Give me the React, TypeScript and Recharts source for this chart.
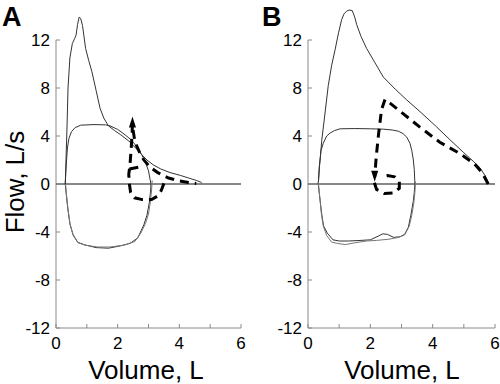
import React from 'react'
import { ComposedChart, Line, XAxis, YAxis, ReferenceLine } from 'recharts'

type Pt = { x: number; y: number }
const pts = (a: number[][]): Pt[] => a.map(([x, y]) => ({ x, y }))

const volumeTicks = [0, 1, 2, 3, 4, 5, 6]
const flowTicks = [-12, -8, -4, 0, 4, 8, 12]

// Panel A
const mefvA = pts([
  [0.3, 0], [0.33, 2.5], [0.36, 5.0], [0.39, 8.0], [0.45, 10.5], [0.53, 11.7], [0.6, 12.1],
  [0.65, 12.4], [0.7, 13.3], [0.75, 13.9], [0.8, 13.8], [0.86, 13.2], [0.96, 11.3], [1.06, 10.3],
  [1.16, 9.4], [1.3, 7.8], [1.43, 6.3], [1.55, 5.5], [1.7, 4.85], [1.9, 4.45], [2.1, 4.1],
  [2.4, 3.5], [2.6, 2.95], [2.78, 2.45], [2.95, 2.0], [3.15, 1.6], [3.4, 1.25], [3.7, 0.95],
  [4.03, 0.72], [4.3, 0.5], [4.55, 0.3], [4.7, 0.15], [4.73, 0.08],
])
const loopA = pts([
  [0.3, 0], [0.33, 1.5], [0.37, 3.0], [0.42, 3.8], [0.5, 4.35], [0.62, 4.7], [0.8, 4.9],
  [1.2, 4.95], [1.6, 4.93], [1.75, 4.85], [2.0, 4.55], [2.24, 4.1], [2.45, 3.65], [2.62, 3.1],
  [2.78, 2.45], [2.9, 1.8], [3.0, 1.1], [3.05, 0.4], [3.08, 0], [3.07, -0.5], [3.03, -1.5],
  [2.95, -2.6], [2.85, -3.4], [2.65, -4.5], [2.4, -4.95], [2.1, -5.15], [1.7, -5.35],
  [1.3, -5.3], [0.9, -5.05], [0.7, -4.85], [0.55, -4.2], [0.45, -3.3], [0.38, -2.0],
  [0.33, -0.8], [0.3, 0],
])
const inspA = pts([
  [3.12, 0.3], [3.1, -0.5], [3.06, -1.5], [3.0, -2.5], [2.9, -3.3], [2.75, -4.1], [2.55, -4.8],
  [2.2, -5.1], [1.75, -5.25], [1.35, -5.25], [0.95, -5.1], [0.72, -4.9], [0.56, -4.3],
  [0.46, -3.4], [0.39, -2.1], [0.34, -0.9], [0.31, 0],
])
const tidalExpA = pts([
  [2.5, 4.5], [2.56, 3.5], [2.7, 2.7], [2.85, 2.0], [3.05, 1.4], [3.3, 0.95], [3.65, 0.5],
  [4.0, 0.25], [4.3, 0.12], [4.55, 0.05],
])
const tidalInspA = pts([
  [3.5, 0.05], [3.42, -0.5], [3.33, -0.95], [3.1, -1.3], [2.8, -1.3], [2.55, -1.15],
  [2.42, -0.7], [2.38, 0], [2.36, 0.8], [2.4, 1.6], [2.44, 3.0], [2.47, 4.3], [2.48, 5.2],
])
const tidalKinkA = pts([[2.38, 1.25], [2.68, 1.4]])

// Panel B
const mefvB = pts([
  [0.33, 0], [0.37, 1.5], [0.44, 3.6], [0.55, 6.0], [0.65, 8.2], [0.76, 9.9], [0.87, 11.2],
  [0.98, 12.6], [1.08, 13.7], [1.16, 14.2], [1.24, 14.4], [1.32, 14.5], [1.42, 14.45],
  [1.5, 13.9], [1.56, 13.3], [1.7, 12.3], [1.88, 11.3], [2.15, 10.1], [2.42, 8.9], [2.8, 7.9],
  [3.17, 7.0], [3.65, 5.9], [4.13, 4.75], [4.55, 3.7], [4.98, 2.65], [5.3, 1.9], [5.52, 1.35],
  [5.68, 0.7], [5.78, 0.13], [5.8, 0],
])
const loopB = pts([
  [0.33, 0], [0.36, 1.4], [0.42, 2.8], [0.49, 3.4], [0.6, 4.0], [0.71, 4.25], [0.85, 4.45],
  [1.03, 4.6], [1.5, 4.62], [2.0, 4.6], [2.42, 4.57], [2.7, 4.5], [2.9, 4.4], [3.05, 4.2],
  [3.17, 3.9], [3.27, 3.4], [3.33, 2.8], [3.38, 2.0], [3.41, 1.2], [3.43, 0], [3.41, -0.7],
  [3.38, -1.4], [3.3, -2.6], [3.22, -3.6], [3.1, -4.2], [2.95, -4.4], [2.75, -4.45],
  [2.55, -4.2], [2.4, -4.15], [2.25, -4.35], [2.0, -4.65], [1.7, -4.7], [1.3, -4.75],
  [1.0, -4.75], [0.8, -4.65], [0.62, -4.1], [0.5, -3.5], [0.44, -2.5], [0.39, -1.4],
  [0.35, -0.5], [0.33, 0],
])
const inspB = pts([
  [3.45, 0.2], [3.43, -0.7], [3.4, -1.5], [3.33, -2.6], [3.25, -3.5], [3.1, -4.25],
  [2.9, -4.45], [2.6, -4.6], [2.2, -4.7], [1.88, -4.75], [1.5, -4.9], [1.19, -5.05],
  [0.95, -4.95], [0.76, -4.85], [0.6, -4.3], [0.49, -3.5], [0.43, -2.5], [0.39, -1.4],
  [0.35, -0.4], [0.33, 0.2],
])
const tidalB = pts([
  [5.78, 0], [5.6, 0.9], [5.35, 1.65], [4.9, 2.5], [4.23, 3.48], [3.59, 4.74], [3.06, 5.85],
  [2.65, 6.7], [2.47, 7.05], [2.36, 6.2], [2.27, 4.3], [2.19, 2.3], [2.14, 0.6],
])
const tidalLoopB = pts([
  [2.13, 0.1], [2.2, -0.45], [2.45, -0.8], [2.75, -0.75], [2.93, -0.35], [2.93, 0.2],
  [2.78, 0.6], [2.55, 0.7], [2.35, 0.6],
])

const font = '"Liberation Sans", Arial, Helvetica, sans-serif'
const solid = '#333'
const axisGrey = '#8a8a8a'

const arrowDot = (dir: 'up' | 'down', n: number) => (p: any) => {
  if (p.index !== n - 1) return <g key={p.index} />
  const { cx, cy } = p
  const d =
    dir === 'up'
      ? `M${cx},${cy - 5} L${cx - 3.5},${cy + 6} L${cx + 3.5},${cy + 6} Z`
      : `M${cx},${cy + 5} L${cx - 3.5},${cy - 6} L${cx + 3.5},${cy - 6} Z`
  return <path key={p.index} d={d} fill="#000" />
}

type Series = { data: Pt[]; dashed?: boolean; color?: string; arrow?: 'up' | 'down' }

function Panel({ series, left, marginLeft, marginRight }: {
  series: Series[]; left: number; marginLeft: number; marginRight: number
}) {
  return (
    <div style={{ position: 'absolute', left, top: 0 }}>
      <ComposedChart
        width={250}
        height={384}
        margin={{ top: 4, right: marginRight, bottom: 26, left: marginLeft }}
      >
        <XAxis
          type="number"
          dataKey="x"
          domain={[0, 6]}
          ticks={volumeTicks}
          tickFormatter={(v: number) => (v % 2 === 0 ? String(v) : '')}
          height={30}
          tickSize={-4}
          tickMargin={13}
          stroke={axisGrey}
          tick={{ fill: '#000', fontSize: 17, fontFamily: font }}
          interval={0}
        />
        <YAxis
          type="number"
          domain={[-12, 15]}
          ticks={flowTicks}
          width={50}
          axisLine={false}
          tickSize={-4}
          tickMargin={10}
          stroke={axisGrey}
          tick={{ fill: '#000', fontSize: 17, fontFamily: font }}
          interval={0}
        />
        <ReferenceLine segment={[{ x: 0, y: -12 }, { x: 0, y: 12 }]} stroke={axisGrey} />
        <ReferenceLine y={0} stroke="#111" />
        {series.map((s, i) => (
          <Line
            key={i}
            data={s.data}
            dataKey="y"
            type="linear"
            stroke={s.dashed ? '#000' : s.color || solid}
            strokeWidth={s.dashed ? 3 : 1}
            strokeDasharray={s.dashed ? '9 6' : undefined}
            dot={s.arrow ? arrowDot(s.arrow, s.data.length) : false}
            activeDot={false}
            isAnimationActive={false}
          />
        ))}
      </ComposedChart>
    </div>
  )
}

const labelStyle: React.CSSProperties = {
  position: 'absolute',
  fontFamily: font,
  color: '#000',
  whiteSpace: 'nowrap',
}

export default function App() {
  return (
    <div style={{ position: 'absolute', left: 0, top: 0, width: 500, height: 384, background: '#fff', overflow: 'hidden' }}>
      <Panel
        left={0}
        marginLeft={6}
        marginRight={9}
        series={[
          { data: mefvA },
          { data: loopA },
          { data: inspA, color: '#777' },
          { data: tidalExpA, dashed: true },
          { data: tidalInspA, dashed: true, arrow: 'up' },
          { data: tidalKinkA, dashed: true },
        ]}
      />
      <Panel
        left={250}
        marginLeft={8}
        marginRight={5}
        series={[
          { data: mefvB },
          { data: loopB },
          { data: inspB, color: '#777' },
          { data: tidalB, dashed: true, arrow: 'down' },
          { data: tidalLoopB, dashed: true },
        ]}
      />
      <div style={{ ...labelStyle, left: 2, top: 4, fontSize: 27, fontWeight: 'bold', lineHeight: '27px' }}>A</div>
      <div style={{ ...labelStyle, left: 262, top: 4, fontSize: 27, fontWeight: 'bold', lineHeight: '27px' }}>B</div>
      <div
        style={{
          ...labelStyle,
          left: 15,
          top: 182,
          fontSize: 26,
          lineHeight: '26px',
          transform: 'translate(-50%, -50%) rotate(-90deg)',
        }}
      >
        Flow, L/s
      </div>
      <div style={{ ...labelStyle, left: 146, top: 370, fontSize: 26, lineHeight: '26px', transform: 'translate(-50%, -50%)' }}>
        Volume, L
      </div>
      <div style={{ ...labelStyle, left: 402, top: 370, fontSize: 26, lineHeight: '26px', transform: 'translate(-50%, -50%)' }}>
        Volume, L
      </div>
    </div>
  )
}
